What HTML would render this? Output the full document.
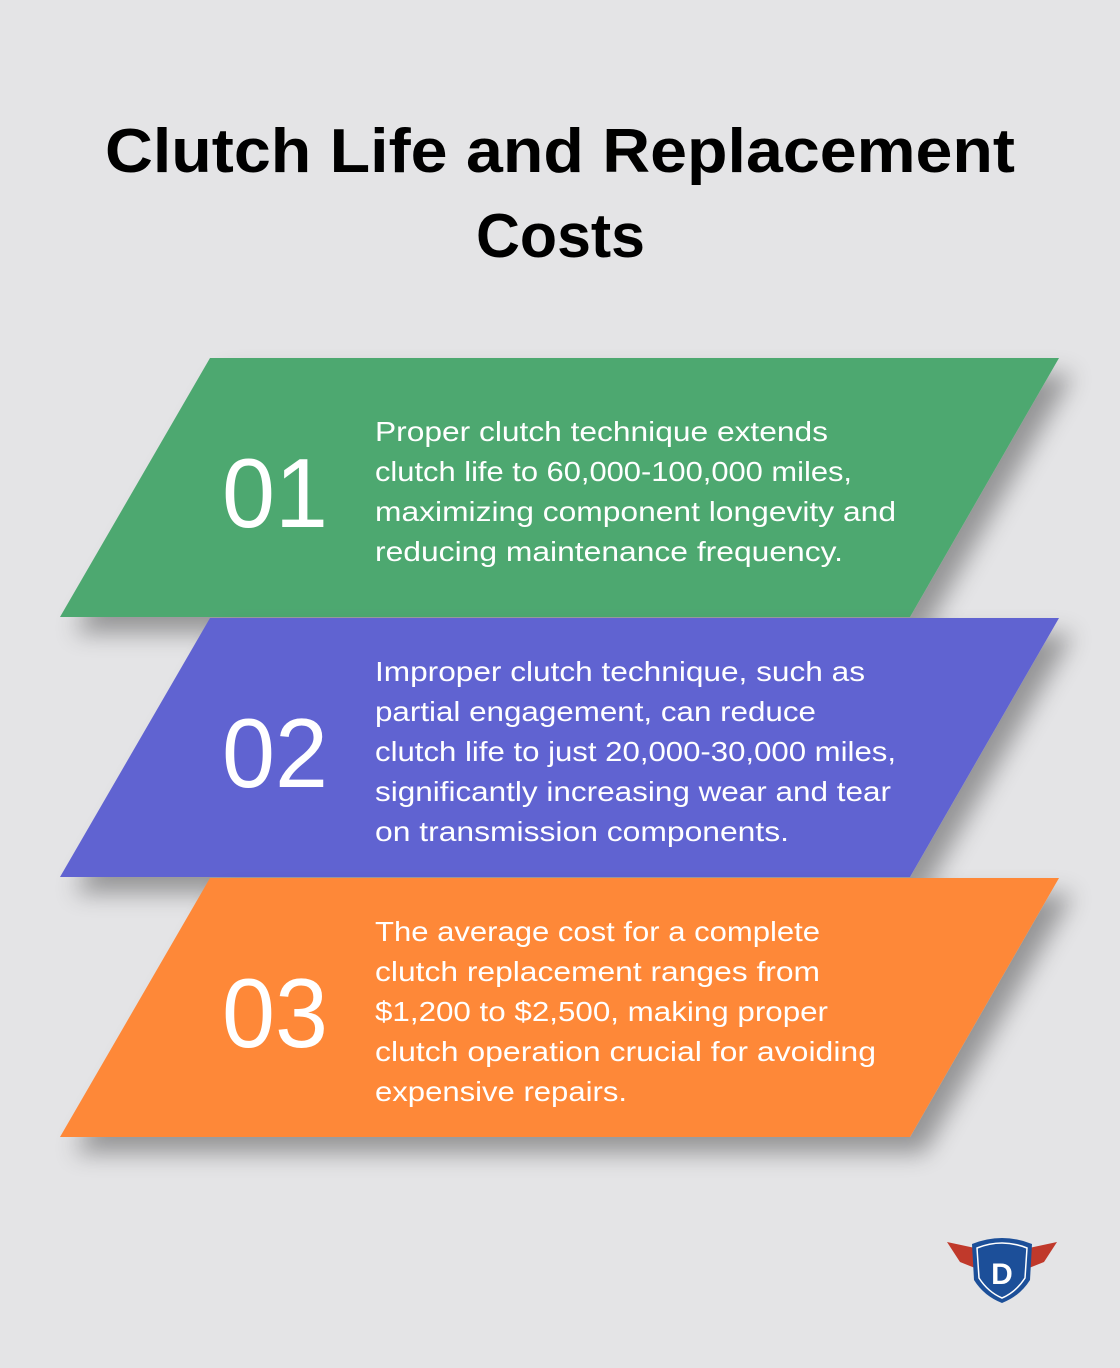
<!DOCTYPE html>
<html><head><meta charset="utf-8"><style>
html,body{margin:0;padding:0;background:#e4e4e6;}
svg{display:block}
text{font-family:"Liberation Sans",sans-serif}
</style></head><body>
<svg width="1120" height="1368" viewBox="0 0 1120 1368" xmlns="http://www.w3.org/2000/svg">
<defs>
<filter id="sh" x="-20%" y="-20%" width="140%" height="160%">
<feGaussianBlur in="SourceAlpha" stdDeviation="12"/>
<feOffset dx="14" dy="16" result="b"/>
<feComponentTransfer><feFuncA type="linear" slope="0.35"/></feComponentTransfer>
<feMerge><feMergeNode/><feMergeNode in="SourceGraphic"/></feMerge>
</filter>
</defs>
<rect width="1120" height="1368" fill="#e4e4e6"/>
<text x="105" y="172" textLength="910" lengthAdjust="spacingAndGlyphs" font-size="62" font-weight="bold" fill="#000">Clutch Life and Replacement</text>
<text x="476" y="257" textLength="169" lengthAdjust="spacingAndGlyphs" font-size="62" font-weight="bold" fill="#000">Costs</text>

<polygon filter="url(#sh)" points="210,358 1059,358 910,617 60,617" fill="#4ea870"/>
<polygon filter="url(#sh)" points="210,618 1059,618 910,877 60,877" fill="#6163d1"/>
<polygon filter="url(#sh)" points="210,878 1059,878 910,1137 60,1137" fill="#fe8837"/>

<g fill="#fff">
<text x="222" y="527" font-size="98" font-weight="300" textLength="106" lengthAdjust="spacingAndGlyphs">01</text>
<text x="222" y="787" font-size="98" font-weight="300" textLength="106" lengthAdjust="spacingAndGlyphs">02</text>
<text x="222" y="1047" font-size="98" font-weight="300" textLength="106" lengthAdjust="spacingAndGlyphs">03</text>
<g font-size="28" lengthAdjust="spacingAndGlyphs">
<text x="375" y="441" textLength="453" lengthAdjust="spacingAndGlyphs">Proper clutch technique extends</text>
<text x="375" y="481" textLength="477" lengthAdjust="spacingAndGlyphs">clutch life to 60,000-100,000 miles,</text>
<text x="375" y="521" textLength="521" lengthAdjust="spacingAndGlyphs">maximizing component longevity and</text>
<text x="375" y="561" textLength="468" lengthAdjust="spacingAndGlyphs">reducing maintenance frequency.</text>
<text x="375" y="681" textLength="490" lengthAdjust="spacingAndGlyphs">Improper clutch technique, such as</text>
<text x="375" y="721" textLength="441" lengthAdjust="spacingAndGlyphs">partial engagement, can reduce</text>
<text x="375" y="761" textLength="521" lengthAdjust="spacingAndGlyphs">clutch life to just 20,000-30,000 miles,</text>
<text x="375" y="801" textLength="516" lengthAdjust="spacingAndGlyphs">significantly increasing wear and tear</text>
<text x="375" y="841" textLength="414" lengthAdjust="spacingAndGlyphs">on transmission components.</text>
<text x="375" y="941" textLength="445" lengthAdjust="spacingAndGlyphs">The average cost for a complete</text>
<text x="375" y="981" textLength="445" lengthAdjust="spacingAndGlyphs">clutch replacement ranges from</text>
<text x="375" y="1021" textLength="453" lengthAdjust="spacingAndGlyphs">$1,200 to $2,500, making proper</text>
<text x="375" y="1061" textLength="501" lengthAdjust="spacingAndGlyphs">clutch operation crucial for avoiding</text>
<text x="375" y="1101" textLength="252" lengthAdjust="spacingAndGlyphs">expensive repairs.</text>
</g>
</g>

<g>
<polygon points="947,1242 975,1248 975,1268 960,1262" fill="#c0392b"/>
<polygon points="1057,1242 1029,1248 1029,1268 1044,1262" fill="#c0392b"/>
<path d="M972,1244 Q1002,1232 1032,1244 L1030,1280 Q1020,1296 1002,1303 Q984,1296 974,1280 Z" fill="#1c4f99"/>
<path d="M977,1248 Q1002,1238 1027,1248 L1025,1278 Q1016,1292 1002,1298 Q988,1292 979,1278 Z" fill="none" stroke="#fff" stroke-width="1.5"/>
<text x="1002" y="1284" text-anchor="middle" font-size="30" font-weight="bold" fill="#fff">D</text>
</g>
</svg>
</body></html>
